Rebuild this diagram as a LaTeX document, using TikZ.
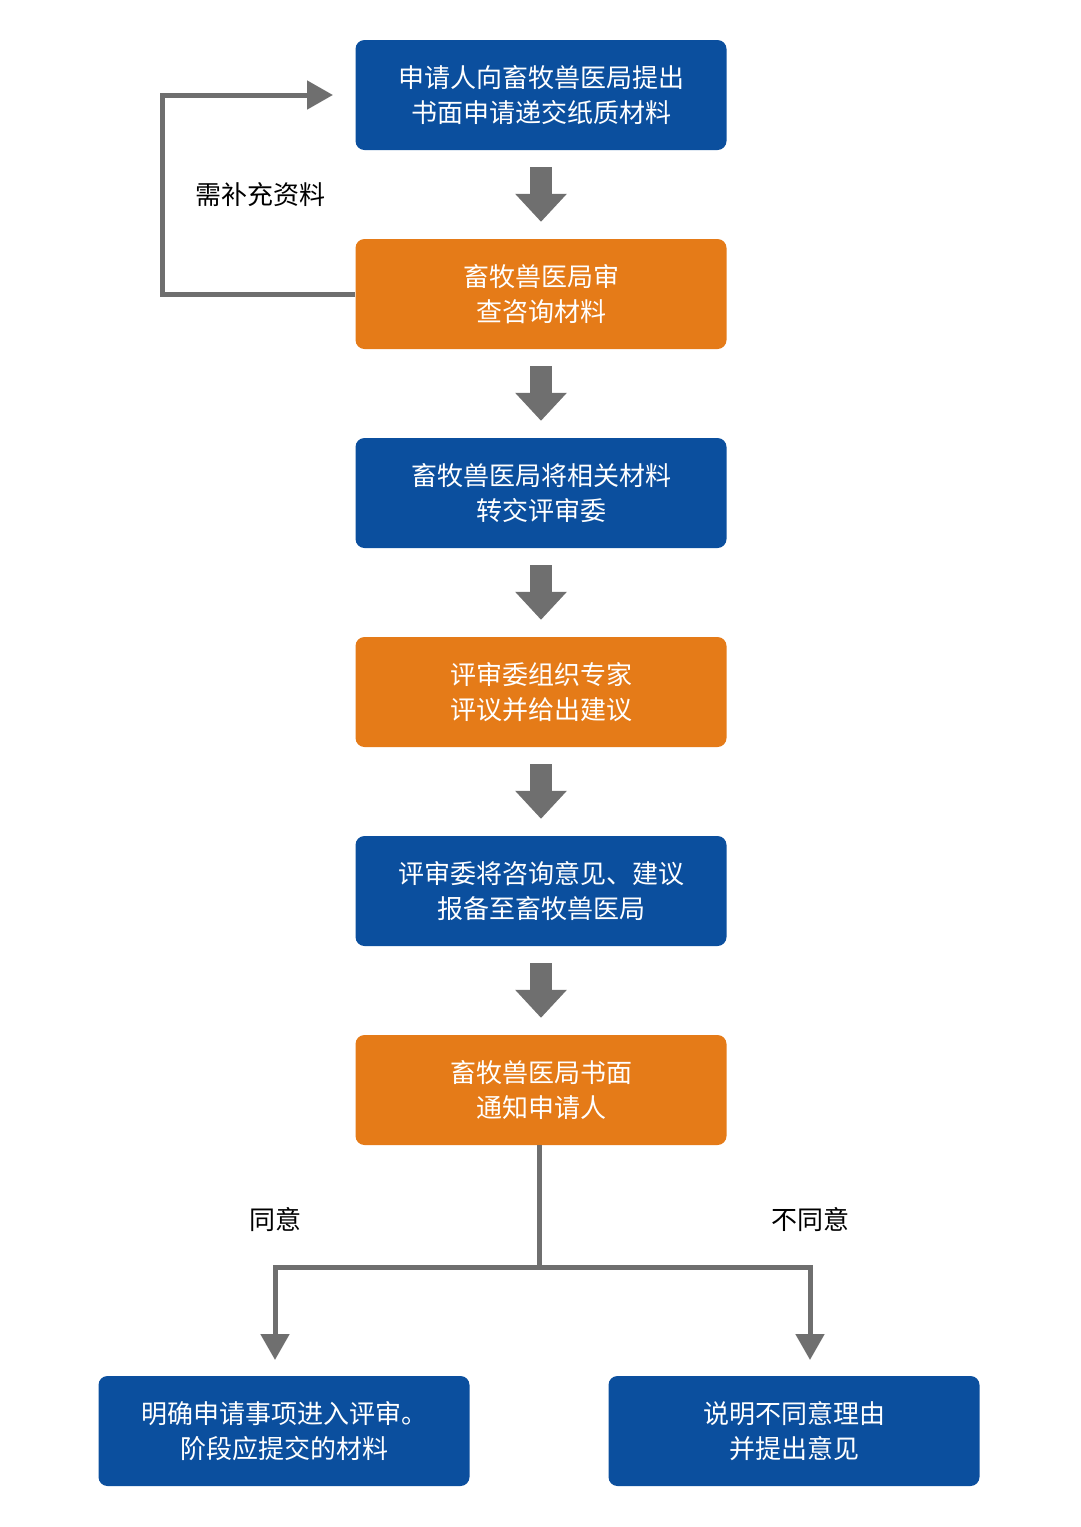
\documentclass[tikz,border=0pt]{standalone}
\usepackage{fontspec}
\setmainfont{Noto Sans CJK SC}
\usetikzlibrary{arrows.meta}
\definecolor{bl}{HTML}{0B4F9E}
\definecolor{og}{HTML}{E57B18}
\definecolor{gr}{HTML}{6F6F6F}
\begin{document}
\begin{tikzpicture}[x=1pt,y=-1pt,
 box/.style={rounded corners=9pt,minimum width=371pt,minimum height=110pt,text=white,align=center,font=\fontsize{26}{35}\selectfont,inner sep=0pt},
 B/.style={box,fill=bl}, O/.style={box,fill=og},
 big/.style={draw=gr,line width=22pt,-{Triangle[width=50pt,length=28pt]},shorten >=17pt,shorten <=17pt},
 thin/.style={draw=gr,line width=5pt},
 lab/.style={font=\fontsize{26}{30}\selectfont}]
\useasboundingbox (0,0) rectangle (1080,1527);
\node[B] (a) at (541,95) {申请人向畜牧兽医局提出\\书面申请递交纸质材料};
\node[O] (b) at (541,294) {畜牧兽医局审\\查咨询材料};
\node[B] (c) at (541,493) {畜牧兽医局将相关材料\\转交评审委};
\node[O] (d) at (541,692) {评审委组织专家\\评议并给出建议};
\node[B] (e) at (541,891) {评审委将咨询意见、建议\\报备至畜牧兽医局};
\node[O] (f) at (541,1090) {畜牧兽医局书面\\通知申请人};
\node[B] (g) at (284,1431) {明确申请事项进入评审。\\阶段应提交的材料};
\node[B] (h) at (794,1431) {说明不同意理由\\并提出意见};
\foreach \p/\q in {a/b,b/c,c/d,d/e,e/f} \draw[big] (\p) -- (\q);
\coordinate (lp) at (333,95);
\draw[thin,-{Triangle[width=28pt,length=26pt]}] (b.west) -| (162,95) -- (lp);
\node[lab] (l1) at (260,195) {需补充资料};
\coordinate (j) at (539,1267);
\coordinate (gl) at (275,1360);
\coordinate (hr) at (810,1360);
\draw[thin] (f.south -| j) -- (j);
\draw[thin,-{Triangle[width=28pt,length=26pt]}] (j) -| (gl);
\draw[thin,-{Triangle[width=28pt,length=26pt]}] (j) -| (hr);
\node[lab] (l2) at (275,1220) {同意};
\node[lab] (l3) at (810,1220) {不同意};
\end{tikzpicture}
\end{document}
